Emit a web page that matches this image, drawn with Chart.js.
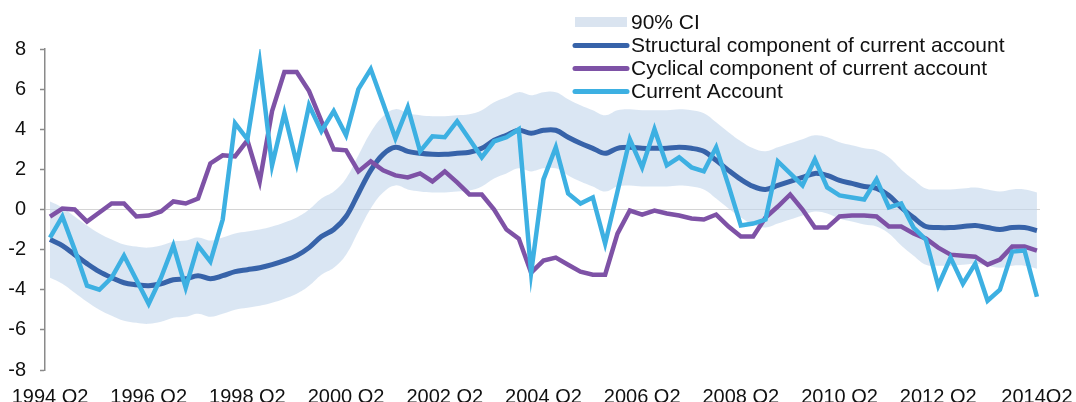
<!DOCTYPE html>
<html><head><meta charset="utf-8">
<script src="https://cdn.jsdelivr.net/npm/chart.js@4.4.0/dist/chart.umd.min.js"></script>
<style>html,body{margin:0;padding:0;background:#fff;}#wrap{width:1076px;height:402px;position:relative;overflow:hidden;}</style>
</head><body><div id="wrap"><canvas id="c" width="1076" height="402"></canvas></div>
<script>
const quarters = ["1994Q2","1994Q3","1994Q4",
"1995Q1","1995Q2","1995Q3","1995Q4","1996Q1","1996Q2","1996Q3","1996Q4",
"1997Q1","1997Q2","1997Q3","1997Q4","1998Q1","1998Q2","1998Q3","1998Q4",
"1999Q1","1999Q2","1999Q3","1999Q4","2000Q1","2000Q2","2000Q3","2000Q4",
"2001Q1","2001Q2","2001Q3","2001Q4","2002Q1","2002Q2","2002Q3","2002Q4",
"2003Q1","2003Q2","2003Q3","2003Q4","2004Q1","2004Q2","2004Q3","2004Q4",
"2005Q1","2005Q2","2005Q3","2005Q4","2006Q1","2006Q2","2006Q3","2006Q4",
"2007Q1","2007Q2","2007Q3","2007Q4","2008Q1","2008Q2","2008Q3","2008Q4",
"2009Q1","2009Q2","2009Q3","2009Q4","2010Q1","2010Q2","2010Q3","2010Q4",
"2011Q1","2011Q2","2011Q3","2011Q4","2012Q1","2012Q2","2012Q3","2012Q4",
"2013Q1","2013Q2","2013Q3","2013Q4","2014Q1","2014Q2"];

const tickQuarters = ["1994Q2","1996Q2","1998Q2","2000Q2","2002Q2","2004Q2","2006Q2","2008Q2","2010Q2","2012Q2","2014Q2"];
const tickLabels = ["1994 Q2","1996 Q2","1998 Q2","2000 Q2","2002 Q2","2004 Q2","2006 Q2","2008 Q2","2010 Q2","2012 Q2","2014Q2"];
const yTicks = [-8,-6,-4,-2,0,2,4,6,8];

const legendLabels = ["90% CI","Structural component of current account","Cyclical component of current account","Current Account"];

const structural = [-1.5,-1.8,-2.25,-2.7,-3.1,-3.4,-3.65,-3.75,-3.8,-3.7,
-3.5,-3.45,-3.3,-3.45,-3.3,-3.1,-3.0,-2.9,-2.75,-2.55,
-2.3,-1.9,-1.35,-1.0,-0.35,0.8,1.95,2.75,3.1,2.9,
2.8,2.75,2.75,2.8,2.85,3.05,3.45,3.7,3.95,3.8,
3.95,3.95,3.6,3.3,3.05,2.8,3.05,3.1,3.05,3.05,
3.05,3.1,3.05,2.9,2.45,1.95,1.5,1.15,1.0,1.2,
1.4,1.6,1.8,1.7,1.45,1.3,1.15,1.05,0.7,0.1,
-0.4,-0.85,-0.9,-0.9,-0.85,-0.8,-0.9,-1.0,-0.9,-0.9,
-1.05];

const cyclical = [-0.35,0.05,0.0,-0.6,-0.15,0.3,0.3,-0.35,-0.3,-0.1,
0.4,0.3,0.55,2.3,2.7,2.65,3.45,1.4,4.9,6.85,
6.85,5.9,4.4,3.0,2.95,1.9,2.4,1.95,1.7,1.6,
1.8,1.4,1.9,1.35,0.75,0.75,0.0,-1.0,-1.45,-3.15,
-2.55,-2.4,-2.75,-3.1,-3.25,-3.25,-1.2,-0.05,-0.25,-0.05,
-0.2,-0.3,-0.45,-0.5,-0.25,-0.85,-1.35,-1.35,-0.4,0.15,
0.75,0.0,-0.9,-0.9,-0.35,-0.3,-0.3,-0.35,-0.85,-0.85,
-1.2,-1.45,-1.9,-2.25,-2.3,-2.35,-2.75,-2.5,-1.85,-1.85,
-2.05];

const currentAccount = [-1.4,-0.35,-2.0,-3.8,-4.0,-3.4,-2.3,-3.5,-4.7,-3.4,
-1.8,-3.9,-1.8,-2.6,-0.5,4.3,3.5,7.35,2.2,4.8,
2.3,5.2,3.9,4.9,3.7,6.0,7.0,5.3,3.55,5.1,
2.9,3.65,3.6,4.4,3.5,2.6,3.4,3.6,4.0,-3.15,
1.5,3.1,0.8,0.3,0.6,-1.7,0.9,3.5,2.1,4.0,
2.2,2.6,2.1,1.9,3.1,1.2,-0.8,-0.7,-0.5,2.4,
1.8,1.2,2.5,1.1,0.7,0.6,0.5,1.5,0.1,0.3,
-0.9,-1.5,-3.8,-2.4,-3.7,-2.7,-4.55,-4.0,-2.1,-2.05,
-4.35];

const ciUpper = [0.4,0.1,-0.35,-0.8,-1.2,-1.5,-1.75,-1.85,-1.9,-1.8,
-1.6,-1.55,-1.4,-1.55,-1.4,-1.2,-1.1,-1.0,-0.85,-0.65,
-0.4,0.0,0.55,0.9,1.55,2.7,3.85,4.65,5.0,4.8,
4.7,4.65,4.65,4.7,4.75,4.95,5.35,5.6,5.85,5.7,
5.85,5.85,5.5,5.2,4.95,4.7,4.95,5.0,4.95,4.95,
4.95,5.0,4.95,4.8,4.35,3.85,3.4,3.05,2.9,3.1,
3.3,3.5,3.7,3.6,3.35,3.2,3.05,2.95,2.6,2.0,
1.5,1.05,1.0,1.0,1.05,1.1,1.0,0.9,1.0,1.0,
0.85];

const ciLower = [-3.4,-3.7,-4.15,-4.6,-5.0,-5.3,-5.55,-5.65,-5.7,-5.6,
-5.4,-5.35,-5.2,-5.35,-5.2,-5.0,-4.9,-4.8,-4.65,-4.45,
-4.2,-3.8,-3.25,-2.9,-2.25,-1.1,0.05,0.85,1.2,1.0,
0.9,0.85,0.85,0.9,0.95,1.15,1.55,1.8,2.05,1.9,
2.05,2.05,1.7,1.4,1.15,0.9,1.15,1.2,1.15,1.15,
1.15,1.2,1.15,1.0,0.55,0.05,-0.4,-0.75,-0.9,-0.7,
-0.5,-0.3,-0.1,-0.2,-0.45,-0.6,-0.75,-0.85,-1.2,-1.8,
-2.3,-2.75,-2.8,-2.8,-2.75,-2.7,-2.8,-2.9,-2.8,-2.8,
-2.95];

const COL_STRUCT = '#3763a9';
const COL_CYC = '#7e52a6';
const COL_CA = '#3db0e2';
const COL_BAND = 'rgba(196,214,236,0.62)';
const COL_BAND_LEG = '#dae4f0';
const FONT = '"Liberation Sans", Arial, sans-serif';

const pts = arr => arr.map((v, i) => ({x: i, y: v}));

const legendPlugin = {
  id: 'customLegend',
  afterDraw(chart) {
    const ctx = chart.ctx;
    const colors = [COL_BAND_LEG, COL_STRUCT, COL_CYC, COL_CA];
    ctx.save();
    legendLabels.forEach((lab, k) => {
      const y = 22.5 + 23 * k;
      if (k === 0) {
        ctx.fillStyle = colors[0];
        ctx.fillRect(575, y - 5.5, 52, 10);
      } else {
        ctx.strokeStyle = colors[k];
        ctx.lineWidth = 5;
        ctx.lineCap = 'round';
        ctx.beginPath();
        ctx.moveTo(575, y);
        ctx.lineTo(627, y);
        ctx.stroke();
      }
      ctx.fillStyle = '#111';
      ctx.font = '21px ' + FONT;
      ctx.textBaseline = 'middle';
      ctx.textAlign = 'left';
      ctx.fillText(lab, 631, y + 1);
    });
    ctx.restore();
  }
};

new Chart(document.getElementById('c'), {
  type: 'line',
  data: {
    datasets: [
      {label: legendLabels[3], data: pts(currentAccount), borderColor: COL_CA, borderWidth: 4.5, pointRadius: 0, tension: 0, fill: false},
      {label: legendLabels[2], data: pts(cyclical), borderColor: COL_CYC, borderWidth: 4.5, pointRadius: 0, tension: 0, fill: false},
      {label: legendLabels[1], data: pts(structural), borderColor: COL_STRUCT, borderWidth: 5, pointRadius: 0, tension: 0.35, fill: false},
      {label: legendLabels[0], data: pts(ciUpper), borderWidth: 0, borderColor: 'rgba(0,0,0,0)', backgroundColor: COL_BAND, pointRadius: 0, tension: 0.4, fill: '+1'},
      {label: 'ci-lower', data: pts(ciLower), borderWidth: 0, borderColor: 'rgba(0,0,0,0)', pointRadius: 0, tension: 0.4, fill: false}
    ]
  },
  options: {
    responsive: false,
    animation: false,
    devicePixelRatio: 1,
    layout: {padding: {top: 49, left: 0, right: 36, bottom: 0}},
    plugins: {legend: {display: false}, tooltip: {enabled: false}},
    scales: {
      x: {
        type: 'linear',
        min: -0.405,
        max: 80.25,
        afterBuildTicks: s => { s.ticks = tickQuarters.map(q => ({value: quarters.indexOf(q)})); },
        afterFit: s => { s.height = 32; s.paddingLeft = 0; s.paddingRight = 0; },
        border: {display: false},
        grid: {display: false, drawTicks: false},
        ticks: {
          autoSkip: false, maxRotation: 0, minRotation: 0, padding: 15,
          color: '#111', font: {family: FONT, size: 20},
          callback: v => tickLabels[tickQuarters.indexOf(quarters[v])]
        }
      },
      y: {
        min: -8, max: 8,
        afterBuildTicks: s => { s.ticks = yTicks.map(v => ({value: v})); },
        afterFit: s => { s.width = 45; s.paddingTop = 0; s.paddingBottom = 0; },
        border: {display: true, color: '#8a8a8a', width: 1.5},
        grid: {
          drawTicks: true, tickLength: 5, tickColor: '#8a8a8a', tickWidth: 1.5,
          color: c => (c.tick && c.tick.value === 0) ? '#d4d4d4' : 'rgba(0,0,0,0)',
          lineWidth: 1
        },
        ticks: {padding: 14, color: '#111', font: {family: FONT, size: 20}}
      }
    }
  },
  plugins: [legendPlugin]
});
</script>
</body></html>
